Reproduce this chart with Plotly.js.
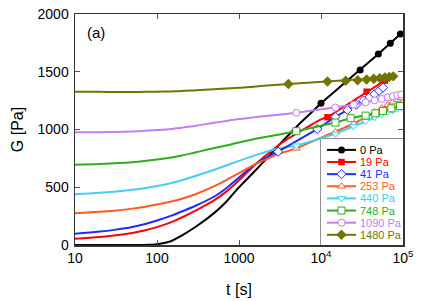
<!DOCTYPE html>
<html><head><meta charset="utf-8">
<script src="https://cdn.plot.ly/plotly-3.0.1.min.js"></script>
<style>html,body{margin:0;padding:0;background:#fff}#chart{width:436px;height:301px}</style>
</head><body><div id="chart"></div>
<script>
// time grid of the smooth (early-time) curves, s
const tFit = [10, 20, 30, 50, 70, 100, 150, 200, 300, 500, 700, 1000, 1500, 2000, 3000, 4000, 5000, 7000, 10000, 12000];
// smooth curves G [Pa] on tFit (each runs up to its first measured point)
const fit0    = [0, 0, 0, 0, 1, 7, 35, 82, 160, 278, 375, 500, 628, 722, 858, 950, 1022, 1122, 1227];
const fit19   = [55, 70, 82, 104, 125, 155, 198, 238, 300, 388, 462, 560, 682, 760, 862, 922, 965, 1025, 1088, 1106];
const fit41   = [98, 116, 131, 156, 180, 212, 254, 290, 342, 420, 492, 585, 688, 745, 808];
const fit253  = [274, 287, 297, 315, 330, 350, 376, 400, 442, 510, 562, 622, 692, 733, 787, 815, 837];
const fit440  = [439, 452, 462, 478, 491, 510, 536, 560, 600, 652, 688, 728, 772, 800, 835, 850, 860];
const fit748  = [695, 701, 707, 717, 727, 740, 758, 774, 803, 840, 862, 888, 915, 932, 955, 972, 985];
const fit1090 = [976, 977, 979, 983, 988, 995, 1005, 1016, 1033, 1058, 1074, 1090, 1105, 1115, 1128, 1137, 1145];
const fit1480 = [1327, 1326, 1325, 1325, 1326, 1327, 1330, 1333, 1340, 1348, 1355, 1362, 1370, 1378, 1387, 1394];

// measured points (t [s], G [Pa])
const t0 = [10000, 30000, 50000, 70000, 93000];
const g0 = [1227, 1515, 1654, 1746, 1827];
const t19 = [12000, 36000, 60000];
const g19 = [1106, 1327, 1423];
const t41 = [3000, 9000, 15000, 21000, 27000, 33000, 39000, 45000, 51000, 57000];
const g41 = [808, 1004, 1110, 1170, 1215, 1250, 1280, 1305, 1335, 1362];
const t253 = [5000, 15000, 25000, 35000, 45000, 55000, 65000, 75000, 85000, 95000];
const g253 = [837, 978, 1050, 1108, 1150, 1185, 1213, 1237, 1255, 1272];
const t440 = [5000, 15000, 25000, 35000, 45000, 55000, 65000, 75000, 85000, 95000];
const g440 = [860, 962, 1028, 1072, 1105, 1130, 1150, 1166, 1180, 1192];
const t748 = [5000, 15000, 23000, 35000, 46000, 57000, 72000, 92000];
const g748 = [985, 1060, 1098, 1120, 1140, 1160, 1183, 1203];
const t1090 = [5000, 15000, 25000, 35000, 45000, 55000, 65000, 75000, 85000, 95000];
const g1090 = [1145, 1190, 1215, 1235, 1252, 1265, 1278, 1288, 1296, 1303];
const t1480 = [4000, 12000, 20000, 28000, 36000, 44000, 52000, 60000, 68000, 76000];
const g1480 = [1394, 1415, 1422, 1427, 1433, 1440, 1445, 1450, 1455, 1460];

const seriesNames = ['0 Pa', '19 Pa', '41 Pa', '253 Pa', '440 Pa', '748 Pa', '1090 Pa', '1480 Pa'];
const xTickVals = [10, 100, 1000, 10000, 100000];
const xTickText = ['10', '100', '1000', '10<sup>4</sup>', '10<sup>5</sup>'];
const yTickVals = [0, 500, 1000, 1500, 2000];

const fits = [fit0, fit19, fit41, fit253, fit440, fit748, fit1090, fit1480];
const tData = [t0, t19, t41, t253, t440, t748, t1090, t1480];
const gData = [g0, g19, g41, g253, g440, g748, g1090, g1480];

// styles
const colors = ['#000000', '#ff0000', '#1f2bff', '#ff5a1f', '#45cdf7', '#2fae1c', '#c27df7', '#737300'];
const symbols = ['circle', 'square', 'diamond', 'triangle-up', 'triangle-down', 'square', 'circle', 'diamond'];
const openSym = [false, false, true, true, true, true, true, false];
const msize = [7, 6.5, 7, 7, 7, 7, 7, 8];
const FONT = 'Liberation Sans, Arial, sans-serif';

function markerStyle(i) {
  return {
    symbol: symbols[i], size: msize[i],
    color: openSym[i] ? '#ffffff' : colors[i],
    line: {color: colors[i], width: openSym[i] ? 1 : 0}
  };
}

const traces = [];
for (let i = 0; i < 8; i++) {
  traces.push({
    x: tFit.slice(0, fits[i].length), y: fits[i], mode: 'lines',
    line: {color: colors[i], width: 2, shape: 'spline', smoothing: 1},
    showlegend: false, hoverinfo: 'skip'
  });
}
for (let i = 0; i < 8; i++) {
  traces.push({
    x: tData[i], y: gData[i], mode: 'lines+markers', name: seriesNames[i],
    line: {color: colors[i], width: 2}, marker: markerStyle(i), showlegend: false
  });
}
// hand-built legend in its own small subplot
const legX = [6, 20.5, 35];
const annotations = [{
  text: '(a)', xref: 'paper', yref: 'paper', x: 0.03, y: 0.918,
  xanchor: 'left', yanchor: 'middle', showarrow: false,
  font: {family: FONT, size: 15, color: '#000'}
}];
for (let i = 0; i < 8; i++) {
  const m = markerStyle(i);
  m.opacity = [0, 1, 0];
  traces.push({
    x: legX, y: [i, i, i], xaxis: 'x3', yaxis: 'y3', mode: 'lines+markers',
    line: {color: colors[i], width: 2}, marker: m, showlegend: false, hoverinfo: 'skip'
  });
  annotations.push({
    text: seriesNames[i], xref: 'x3', yref: 'y3', x: 37, y: i,
    xanchor: 'left', yanchor: 'middle', showarrow: false,
    font: {family: FONT, size: 11, color: colors[i]}
  });
}

const axisCommon = {
  showline: true, linecolor: '#333', linewidth: 1.5, mirror: 'ticks',
  ticks: 'inside', ticklen: 5, tickwidth: 1, tickcolor: '#555',
  showgrid: false, zeroline: false,
  tickfont: {family: FONT, size: 14, color: '#000'}
};

const layout = {
  width: 436, height: 301,
  margin: {l: 75, r: 33, t: 14, b: 56},
  paper_bgcolor: '#fff', plot_bgcolor: '#fff',
  font: {family: FONT, color: '#000'},
  showlegend: false,
  xaxis: Object.assign({}, axisCommon, {
    type: 'log', range: [1, 5], tickvals: xTickVals, ticktext: xTickText,
    title: {text: 't [s]', font: {family: FONT, size: 16}, standoff: 18}
  }),
  yaxis: Object.assign({}, axisCommon, {
    range: [0, 2000], tickvals: yTickVals, ticklabelstandoff: 2,
    title: {text: 'G [Pa]', font: {family: FONT, size: 16}, standoff: 10}
  }),
  xaxis3: {domain: [0.75, 1], range: [0, 82], visible: false, fixedrange: true},
  yaxis3: {domain: [0, 0.459], range: [7.84, -0.9], visible: false, fixedrange: true},
  shapes: [{
    type: 'rect', xref: 'x3 domain', yref: 'y3 domain', x0: 0, x1: 1, y0: 0, y1: 1,
    line: {color: '#222', width: 1}, fillcolor: '#fff', layer: 'below'
  }],
  annotations: annotations
};

Plotly.newPlot('chart', traces, layout, {staticPlot: true, displayModeBar: false});
</script>
</body></html>
